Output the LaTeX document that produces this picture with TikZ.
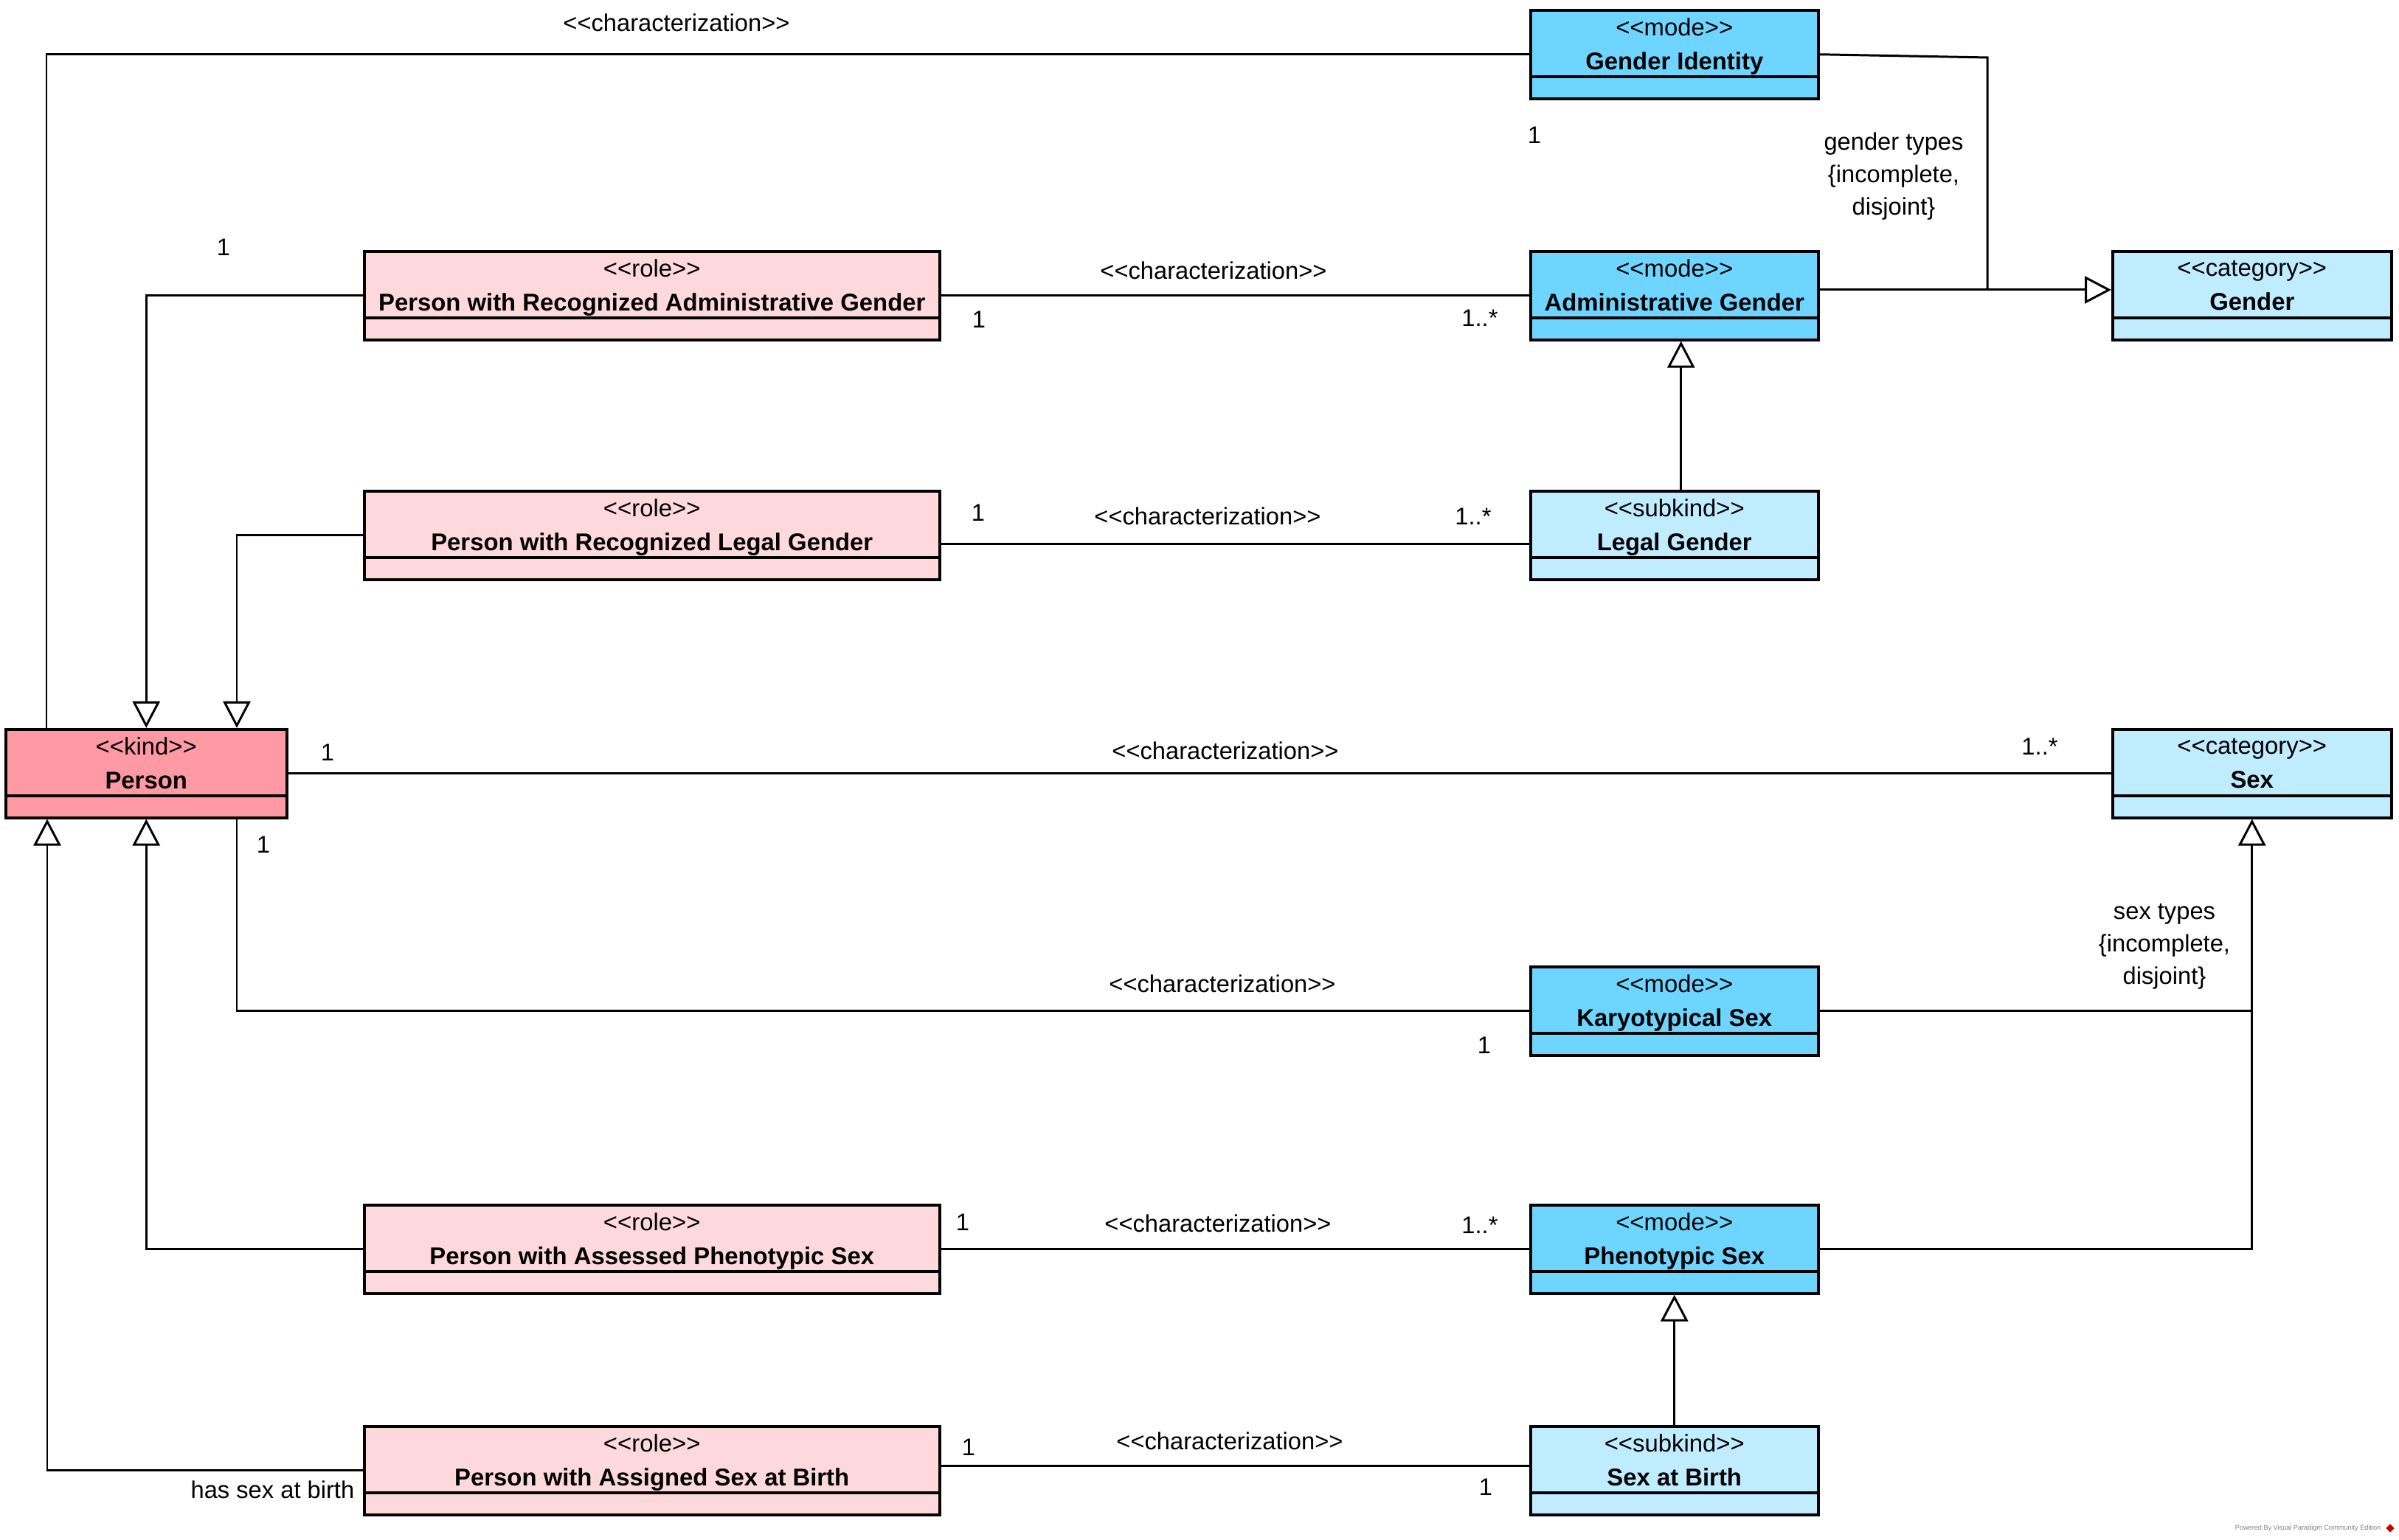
\documentclass[tikz,border=0pt]{standalone}
\usepackage{fontspec}
\setmainfont{Liberation Sans}
\usetikzlibrary{arrows.meta}
\definecolor{kindpink}{RGB}{255,153,164}
\definecolor{rolepink}{RGB}{253,216,220}
\definecolor{modeblue}{RGB}{109,213,255}
\definecolor{lightblue}{RGB}{191,236,255}
\newcommand{\stereo}[1]{<\kern0pt<#1>\kern0pt>}
\tikzset{>=latex,
  umlclass/.style={draw, line width=1pt, anchor=north west, minimum width=#1, minimum height=1.2cm, inner sep=0pt,
    path picture={\draw[line width=1pt] ([yshift=0.3cm]path picture bounding box.south west) -- ([yshift=0.3cm]path picture bounding box.south east);}},
  classtext/.style={align=center, inner sep=0pt, font=\fontsize{9.35}{13}\selectfont,
    execute at begin node=\strut, execute at end node=\strut},
  lbl/.style={inner sep=0pt, align=center, font=\fontsize{9.3}{12.5}\selectfont},
  conn/.style={line width=0.85pt},
  gen/.style={conn, -{Triangle[open, length=0.36cm, width=0.37cm, line width=0.85pt]}}
}

\begin{document}
\begin{tikzpicture}[x=1cm, y=-1cm]
	\useasboundingbox (0,0) rectangle (32.52,20.88);

	\node[umlclass=3.90cm, fill=modeblue] (gid) at (20.73,0.12) {};
	\node[umlclass=3.90cm, fill=modeblue] (admgender) at (20.73,3.39) {};
	\node[umlclass=3.78cm, fill=lightblue] (gender) at (28.62,3.39) {};
	\node[umlclass=7.80cm, fill=rolepink] (pradmin) at (4.92,3.39) {};
	\node[umlclass=7.80cm, fill=rolepink] (prlegal) at (4.92,6.64) {};
	\node[umlclass=3.90cm, fill=lightblue] (legal) at (20.73,6.64) {};
	\node[umlclass=3.81cm, fill=kindpink] (person) at (0.06,9.87) {};
	\node[umlclass=3.78cm, fill=lightblue] (sex) at (28.62,9.87) {};
	\node[umlclass=3.90cm, fill=modeblue] (karyo) at (20.73,13.09) {};
	\node[umlclass=7.80cm, fill=rolepink] (passessed) at (4.92,16.32) {};
	\node[umlclass=3.90cm, fill=modeblue] (pheno) at (20.73,16.32) {};
	\node[umlclass=7.80cm, fill=rolepink] (pbirth) at (4.92,19.32) {};
	\node[umlclass=3.90cm, fill=lightblue] (sbirth) at (20.73,19.32) {};

	\node[classtext] (gid-t) at ([yshift=0.07cm]gid.center) {\stereo{mode}\\\textbf{Gender Identity}};
	\node[classtext] (admgender-t) at ([yshift=0.07cm]admgender.center) {\stereo{mode}\\\textbf{Administrative Gender}};
	\node[classtext] (gender-t) at ([yshift=0.07cm]gender.center) {\stereo{category}\\\textbf{Gender}};
	\node[classtext] (pradmin-t) at ([yshift=0.07cm]pradmin.center) {\stereo{role}\\\textbf{Person with Recognized Administrative Gender}};
	\node[classtext] (prlegal-t) at ([yshift=0.07cm]prlegal.center) {\stereo{role}\\\textbf{Person with Recognized Legal Gender}};
	\node[classtext] (legal-t) at ([yshift=0.07cm]legal.center) {\stereo{subkind}\\\textbf{Legal Gender}};
	\node[classtext] (person-t) at ([yshift=0.07cm]person.center) {\stereo{kind}\\\textbf{Person}};
	\node[classtext] (sex-t) at ([yshift=0.07cm]sex.center) {\stereo{category}\\\textbf{Sex}};
	\node[classtext] (karyo-t) at ([yshift=0.07cm]karyo.center) {\stereo{mode}\\\textbf{Karyotypical Sex}};
	\node[classtext] (passessed-t) at ([yshift=0.07cm]passessed.center) {\stereo{role}\\\textbf{Person with Assessed Phenotypic Sex}};
	\node[classtext] (pheno-t) at ([yshift=0.07cm]pheno.center) {\stereo{mode}\\\textbf{Phenotypic Sex}};
	\node[classtext] (pbirth-t) at ([yshift=0.07cm]pbirth.center) {\stereo{role}\\\textbf{Person with Assigned Sex at Birth}};
	\node[classtext] (sbirth-t) at ([yshift=0.07cm]sbirth.center) {\stereo{subkind}\\\textbf{Sex at Birth}};

	\coordinate (gbend) at (26.94,0.78);
	\coordinate (gjoin) at (26.94,3.93);
	\coordinate (sjoin) at (sex.south |- karyo.east);

	\draw[conn] (gid.west) -| ([xshift=0.57cm]person.north west);
	\draw[conn] (gid.east) -- (gbend) -- (gjoin);
	\draw[gen] (admgender.east |- gjoin) -- (gender.west |- gjoin);
	\draw[gen] (pradmin.west) -| (person.north);
	\draw[conn] (pradmin.east) -- (admgender.west);
	\draw[gen] ([xshift=0.09cm]legal.north) -- ([xshift=0.09cm]admgender.south);
	\draw[gen] (prlegal.west) -| ([xshift=3.15cm]person.north west);
	\draw[conn] ([yshift=-0.12cm]prlegal.east) -- ([yshift=-0.12cm]legal.west);
	\draw[conn] (person.east) -- (sex.west);
	\draw[conn] ([xshift=3.15cm]person.south west) |- (karyo.west);
	\draw[conn] (karyo.east) -- (sjoin);
	\draw[gen] (pheno.east) -| (sex.south);
	\draw[gen] (passessed.west) -| (person.south);
	\draw[conn] (passessed.east) -- (pheno.west);
	\draw[gen] (sbirth.north) -- (pheno.south);
	\draw[gen] (pbirth.west) -| ([xshift=0.58cm]person.south west);
	\draw[conn] ([yshift=0.06cm]pbirth.east) -- ([yshift=0.06cm]sbirth.west);

	\node[lbl] (gid-c) at (9.17,0.31) {\stereo{characterization}};
	\node[lbl] (gid-m1) at (3.03,3.35) {1};
	\node[lbl] (gid-m2) at (20.80,1.83) {1};
	\node[lbl] (gset) at (25.67,2.39) {gender types\\\{incomplete,\\disjoint\}};
	\node[lbl] (pradmin-c) at (16.45,3.67) {\stereo{characterization}};
	\node[lbl] (pradmin-m1) at (13.27,4.33) {1};
	\node[lbl] (pradmin-m2) at (20.06,4.31) {1..*};
	\node[lbl] (prlegal-c) at (16.37,7.00) {\stereo{characterization}};
	\node[lbl] (prlegal-m1) at (13.26,6.95) {1};
	\node[lbl] (prlegal-m2) at (19.97,7.00) {1..*};
	\node[lbl] (sex-c) at (16.61,10.18) {\stereo{characterization}};
	\node[lbl] (sex-m1) at (4.44,10.20) {1};
	\node[lbl] (sex-m2) at (27.65,10.12) {1..*};
	\node[lbl] (karyo-c) at (16.57,13.34) {\stereo{characterization}};
	\node[lbl] (karyo-m1) at (3.57,11.45) {1};
	\node[lbl] (karyo-m2) at (20.12,14.17) {1};
	\node[lbl] (sset) at (29.34,12.83) {sex types\\\{incomplete,\\disjoint\}};
	\node[lbl] (pheno-c) at (16.51,16.59) {\stereo{characterization}};
	\node[lbl] (pheno-m1) at (13.05,16.57) {1};
	\node[lbl] (pheno-m2) at (20.06,16.61) {1..*};
	\node[lbl] (sbirth-c) at (16.67,19.54) {\stereo{characterization}};
	\node[lbl] (sbirth-m1) at (13.13,19.62) {1};
	\node[lbl] (sbirth-m2) at (20.14,20.16) {1};
	\node[lbl, anchor=east] (birth-r) at (4.81,20.20) {has sex at birth};

	\node[inner sep=0pt, anchor=east, text=gray, font=\fontsize{2.6}{3}\selectfont] (vpmark) at (32.28,20.72) {Powered By Visual Paradigm Community Edition};
	\node[fill=red!80!black, inner sep=0pt, minimum size=0.08cm, rotate=45] (vplogo) at (32.40,20.72) {};
\end{tikzpicture}
\end{document}
